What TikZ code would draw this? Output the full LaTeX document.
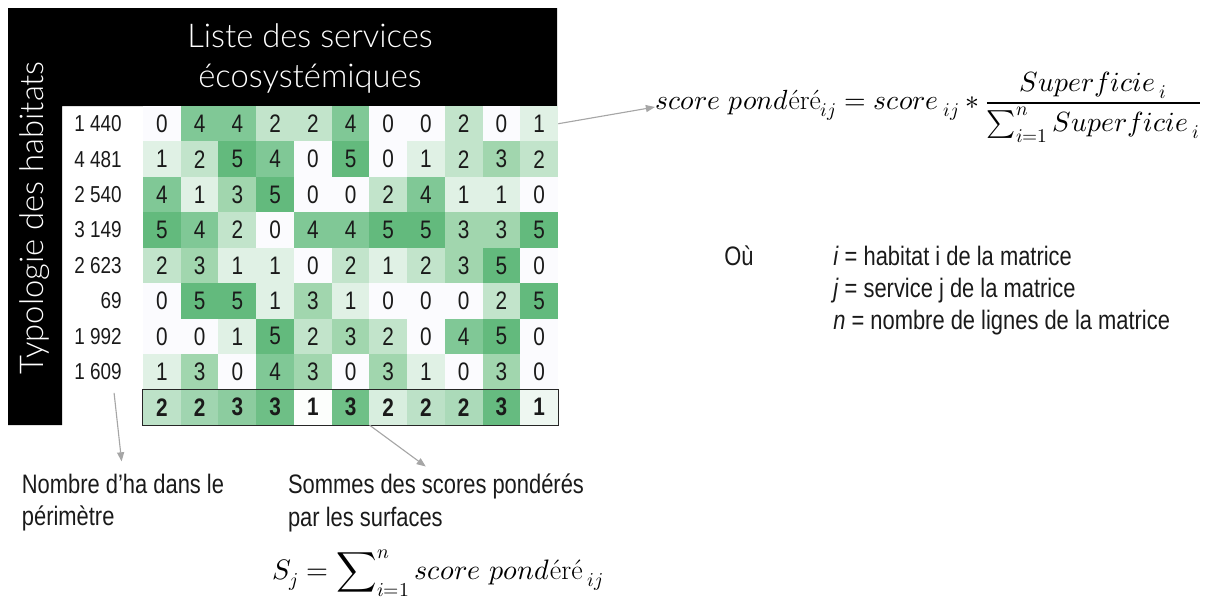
\documentclass[tikz,border=0pt]{standalone}
\usepackage{amsmath}
\usepackage{fontspec}
\usepackage{unicode-math}
\setmathfont{Latin Modern Math}
\usetikzlibrary{arrows.meta}
\newfontfamily\narrowfont[FakeStretch=0.82]{Liberation Sans}
\IfFontExistsTF{Lato Light}{\newfontfamily\thinfont{Lato Light}}{\newfontfamily\thinfont{Lato}}
\definecolor{v0}{HTML}{FBFBFE}
\definecolor{v1}{HTML}{E0F1E5}
\definecolor{v2}{HTML}{C2E4CB}
\definecolor{v3}{HTML}{A1D6AE}
\definecolor{v4}{HTML}{80C896}
\definecolor{v5}{HTML}{63BA7D}
\definecolor{sg}{HTML}{63BA7D}
\definecolor{ink}{HTML}{1A1A1A}
\definecolor{pointgrey}{HTML}{A6A6A6}
\tikzset{
  cell/.style={minimum width=0.943cm, minimum height=0.886cm, inner sep=0, text=ink,
    font=\narrowfont\fontsize{18}{21}\selectfont},
  rowlab/.style={anchor=east, inner sep=0, text=ink, font=\narrowfont\fontsize{16.4}{19}\selectfont},
  note/.style={align=left, inner sep=0, text=ink, font=\narrowfont\fontsize{19}{22.8}\selectfont},
  headtext/.style={text=white, font=\thinfont\fontsize{23.3}{28.4}\selectfont},
  pointer/.style={draw=pointgrey, line width=0.8pt, -{Triangle[length=6.5pt,width=5pt]}}
}
\begin{document}
\begin{tikzpicture}[x=0.025cm, y=-0.025cm]
\useasboundingbox (0,0) rectangle (1205,608);
\fill[black] (8,8) -- (557,8) -- (557,106) -- (62,106) -- (62,425) -- (8,425) -- cycle;
\node[headtext, align=center] (titre) at (310,58) {Liste des services\\écosystémiques};
\node[headtext, rotate=90] (typo) at (35,218) {Typologie des habitats};

\foreach \row [count=\r] in {{0,4,4,2,2,4,0,0,2,0,1},{1,2,5,4,0,5,0,1,2,3,2},
  {4,1,3,5,0,0,2,4,1,1,0},{5,4,2,0,4,4,5,5,3,3,5},{2,3,1,1,0,2,1,2,3,5,0},
  {0,5,5,1,3,1,0,0,0,2,5},{0,0,1,5,2,3,2,0,4,5,0},{1,3,0,4,3,0,3,1,0,3,0}}
  \foreach \v [count=\c] in \row
    \node[cell, fill=v\v] (c-\r-\c) at ({124.14+37.73*\c},{88.28+35.44*\r}) {\v};

\foreach \v/\p [count=\c] in {2/42,2/61,3/74,3/93,1/2,3/92,2/25,2/43,2/54,3/98,1/11}
  \node[cell, fill=sg!\p!white] (s-\c) at ({124.14+37.73*\c},{88.28+35.44*9}) {\bfseries\v};
\draw[line width=1pt, black!85] (s-1.north west) rectangle (s-11.south east);

\foreach \t [count=\r] in {1 440,4 481,2 540,3 149,2 623,69,1 992,1 609}
  \node[rowlab] (l-\r) at (122,{88.28+35.44*\r}) {\t};

\node[anchor=west, inner sep=0, font=\fontsize{19.7}{23}\selectfont] (fml) at (655,107)
  {$\displaystyle score\ pond\text{éré}_{ij} = score\,{}_{ij} * \frac{Superficie\,{}_{i}}{\sum_{i=1}^{n} Superficie\,{}_{i}}$};
\node[note, anchor=north] (nbr) at (123,474) {Nombre d’ha dans le\\périmètre};
\node[note, anchor=north] (som) at (436,474) {Sommes des scores pondérés\\par les surfaces};
\node[inner sep=0, font=\fontsize{20}{23}\selectfont] (sj) at (438,573)
  {$\displaystyle S_j = \sum\nolimits_{i=1}^{n} score\ pond\text{éré}\,{}_{ij}$};
\node[note, anchor=north west] (ou) at (724,246) {Où};
\node[note, anchor=north west] (defs) at (833,246)
  {\textit{i} = habitat i de la matrice\\\textit{j} = service j de la matrice\\\textit{n} = nombre de lignes de la matrice};

\draw[pointer] (c-1-11.east) -- (fml.west);
\draw[pointer, shorten <=9pt, shorten >=9pt] (l-8.-30) -- (nbr.north);
\draw[pointer, shorten >=9pt] (s-6.south east) -- (som.north);
\end{tikzpicture}
\end{document}
